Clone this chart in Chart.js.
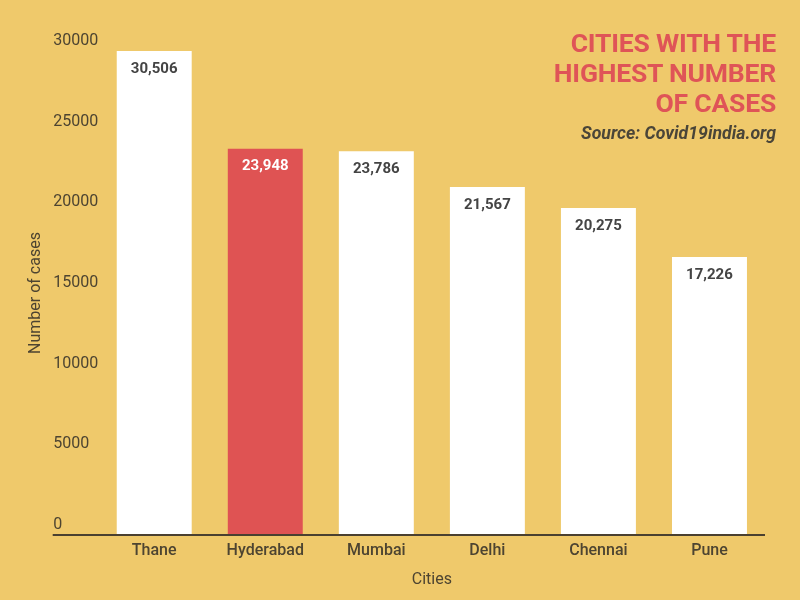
<!DOCTYPE html>
<html>
<head>
<meta charset="utf-8">
<script src="https://cdn.jsdelivr.net/npm/chart.js@4/dist/chart.umd.min.js"></script>
<style>
  html, body { margin: 0; padding: 0; background: #efc96b; }
  #wrap { position: relative; width: 800px; height: 600px; }
  #heading {
    position: absolute; right: 24px; top: 28px; text-align: right;
    font-family: Roboto, sans-serif; font-weight: 700; font-size: 26.5px;
    line-height: 30px; color: #df5457; letter-spacing: -0.2px;
  }
  #source {
    position: absolute; right: 24px; top: 123px; text-align: right;
    font-family: Roboto, sans-serif; font-weight: 700; font-style: italic;
    font-size: 17.7px; color: #4a4538;
  }
</style>
</head>
<body>
<div id="wrap">
  <canvas id="chart" width="800" height="600"></canvas>
  <div id="heading">CITIES WITH THE<br>HIGHEST NUMBER<br>OF CASES</div>
  <div id="source">Source: Covid19india.org</div>
</div>
<script>
// data
const cities = ['Thane', 'Hyderabad', 'Mumbai', 'Delhi', 'Chennai', 'Pune'];
const cases = [30506, 23948, 23786, 21567, 20275, 17226];
const highlightCity = 'Hyderabad';

const inkColor = '#4d4431';
const barColors = cities.map(c => c === highlightCity ? '#df5353' : '#ffffff');
const labelColors = cities.map(c => c === highlightCity ? '#ffffff' : '#444444');

// value labels inside the top of each bar
const valueLabels = {
    id: 'valueLabels',
    afterDatasetsDraw(chart) {
        const ctx = chart.ctx;
        const meta = chart.getDatasetMeta(0);
        const top = chart.chartArea.top;
        ctx.save();
        ctx.font = '700 15px Roboto, sans-serif';
        ctx.textAlign = 'center';
        ctx.textBaseline = 'middle';
        meta.data.forEach((bar, i) => {
            ctx.fillStyle = labelColors[i];
            ctx.fillText(cases[i].toLocaleString('en-US'), bar.x, Math.max(bar.y, top) + 18);
        });
        ctx.restore();
    }
};

new Chart(document.getElementById('chart'), {
    type: 'bar',
    data: {
        labels: cities,
        datasets: [{
            data: cases,
            backgroundColor: barColors,
            borderWidth: 0,
            barPercentage: 0.675,
            categoryPercentage: 1,
            clip: 0
        }]
    },
    options: {
        responsive: false,
        animation: false,
        layout: { padding: { left: 26, right: 35, top: 51, bottom: 10.6 } },
        plugins: {
            legend: { display: false },
            tooltip: { enabled: false }
        },
        scales: {
            x: {
                grid: { display: false, drawTicks: false },
                border: { display: false },
                ticks: {
                    color: inkColor,
                    padding: 6,
                    font: { family: 'Roboto', size: 16, weight: '500' }
                },
                title: {
                    display: true,
                    text: 'Cities',
                    color: inkColor,
                    padding: { top: 4, bottom: 0 },
                    font: { family: 'Roboto', size: 16 }
                }
            },
            y: {
                position: 'left',
                weight: 0,
                min: 0,
                max: 30000,
                border: { display: false },
                grid: {
                    color: c => c.tick && c.tick.value === 0 ? '#4a4030' : 'transparent',
                    lineWidth: 2,
                    drawTicks: true,
                    tickLength: 46
                },
                ticks: {
                    stepSize: 5000,
                    crossAlign: 'far',
                    labelOffset: -10,
                    color: inkColor,
                    font: { family: 'Roboto', size: 16 },
                    callback: v => String(v)
                },
                afterFit: scale => { scale.width = 45.5; }
            },
            yTitle: {
                type: 'linear',
                axis: 'y',
                position: 'left',
                weight: 1,
                grid: { display: false, drawTicks: false },
                border: { display: false },
                ticks: { display: false },
                title: {
                    display: true,
                    text: 'Number of cases',
                    color: inkColor,
                    padding: { top: 0, bottom: 8 },
                    font: { family: 'Roboto', size: 16 }
                }
            }
        }
    },
    plugins: [valueLabels]
});
</script>
</body>
</html>
